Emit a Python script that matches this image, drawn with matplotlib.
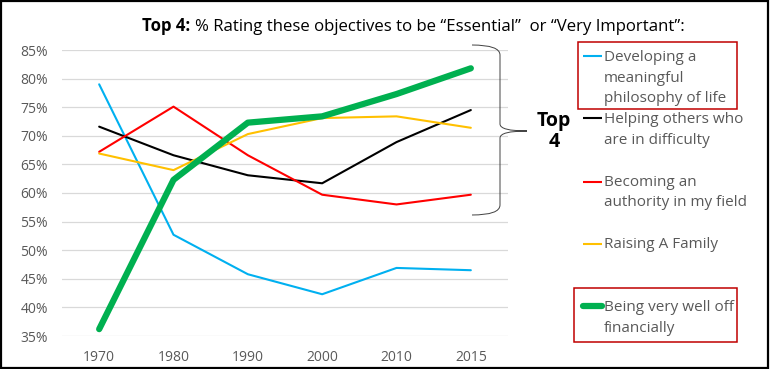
import matplotlib
matplotlib.use("Agg")
import matplotlib.pyplot as plt
from matplotlib.patches import Rectangle, PathPatch
from matplotlib.path import Path
from matplotlib.lines import Line2D

years = ["1970", "1980", "1990", "2000", "2010", "2015"]
yticks = [35, 40, 45, 50, 55, 60, 65, 70, 75, 80, 85]

developing = [79.0, 52.7, 45.8, 42.3, 46.9, 46.5]
helping = [71.6, 66.6, 63.1, 61.7, 68.9, 74.5]
authority = [67.2, 75.1, 66.6, 59.7, 58.0, 59.7]
family = [66.9, 64.0, 70.3, 73.1, 73.4, 71.4]
welloff = [36.2, 62.3, 72.3, 73.4, 77.3, 81.8]

labels = ["Developing a\nmeaningful\nphilosophy of life",
          "Helping others who\nare in difficulty",
          "Becoming an\nauthority in my field",
          "Raising A Family",
          "Being very well off\nfinancially"]
colors = ["#00b0f0", "#000000", "#ff0000", "#ffc000", "#00b050"]
widths = [1.5, 1.5, 1.5, 1.5, 4.5]
series = [developing, helping, authority, family, welloff]

plt.rcParams['font.family'] = ['Open Sans', 'DejaVu Sans']

W, H = 770, 369
fig = plt.figure(figsize=(W / 100, H / 100), dpi=100)

def fx(x):
    return x / W

def fy(y):
    return 1 - y / H

ax = fig.add_axes([fx(62), fy(336), fx(508) - fx(62), fy(50) - fy(336)])
xs = list(range(len(years)))
for s, c, w in zip(series, colors, widths):
    ax.plot(xs, s, color=c, lw=w, solid_capstyle='round', solid_joinstyle='round', zorder=3)

ax.set_xlim(-0.5, len(years) - 0.5)
ax.set_ylim(35, 85)
ax.set_yticks(yticks)
ax.set_yticklabels([f"{v}%" for v in yticks])
ax.set_xticks(xs)
ax.set_xticklabels(years)
ax.grid(axis='y', color='#d9d9d9', lw=0.9)
ax.set_axisbelow(True)
for sp in ax.spines.values():
    sp.set_visible(False)
ax.tick_params(length=0, labelsize=10, labelcolor='#595959')
ax.tick_params(axis='y', pad=10)
ax.tick_params(axis='x', pad=10)

# Title
t1 = fig.text(fx(142), fy(31), "Top 4:", fontsize=12.1, fontweight='bold', ha='left', va='baseline')
fig.canvas.draw()
bb = t1.get_window_extent()
fig.text(bb.x1 / W + fx(5), fy(31),
         "% Rating these objectives to be \u201cEssential\u201d  or \u201cVery Important\u201d:",
         fontsize=12.1, ha='left', va='baseline')

# Legend (manual)
handle_y = [55.7, 118.3, 181.7, 244, 306]
first_base = [61, 123.3, 185.7, 248.3, 311]
line_gap = 20.7
for lab, c, w, hy, b in zip(labels, colors, widths, handle_y, first_base):
    fig.add_artist(Line2D([fx(583), fx(602)], [fy(hy), fy(hy)], color=c, lw=w,
                          solid_capstyle='butt' if w < 3 else 'round'))
    for i, line in enumerate(lab.split("\n")):
        fig.text(fx(604), fy(b + i * line_gap), line, fontsize=11, color='#595959',
                 ha='left', va='baseline')

# Red boxes
for (x0, y0, x1, y1) in [(578, 42, 737, 109), (574, 288, 737, 342)]:
    fig.add_artist(Rectangle((fx(x0), fy(y1)), fx(x1) - fx(x0), fy(y0) - fy(y1),
                             transform=fig.transFigure, fill=False, edgecolor='#c00000', lw=1.1))

# Brace
pts = [(472, 45), (500, 45), (500, 55), (500, 124), (500, 131), (527, 131),
       (500, 131), (500, 138), (500, 205), (500, 215), (472, 215)]
codes = [Path.MOVETO, Path.CURVE3, Path.CURVE3, Path.LINETO, Path.CURVE3, Path.CURVE3,
         Path.CURVE3, Path.CURVE3, Path.LINETO, Path.CURVE3, Path.CURVE3]
path = Path([(fx(x), fy(y)) for x, y in pts], codes)
fig.add_artist(PathPatch(path, transform=fig.transFigure, fill=False, edgecolor='#404040', lw=0.7))

fig.text(fx(554), fy(126), "Top", fontsize=14, fontweight='bold', ha='center', va='baseline')
fig.text(fx(554), fy(147), "4", fontsize=14, fontweight='bold', ha='center', va='baseline')

# Outer frame
fig.add_artist(Rectangle((0.001, 0.002), 0.997, 0.995, transform=fig.transFigure,
                         fill=False, edgecolor='black', lw=1.6))

fig.savefig("out.png", dpi=100)
